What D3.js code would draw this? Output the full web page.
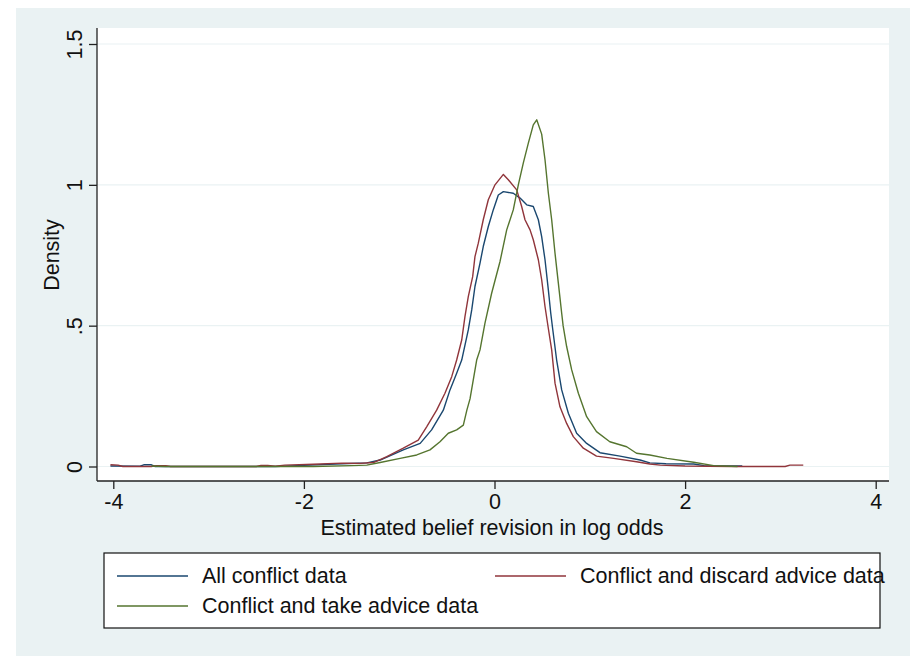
<!DOCTYPE html>
<html>
<head>
<meta charset="utf-8">
<script src="https://cdn.jsdelivr.net/npm/d3@7"></script>
<style>
  html, body { margin: 0; padding: 0; background: #ffffff; }
  svg { display: block; }
  text { font-family: "Liberation Sans", Arial, sans-serif; fill: #111; }
</style>
</head>
<body>
<svg id="chart" width="910" height="656"></svg>
<script>
// Kernel density estimates of belief revision (log odds), one array per group: [x, density]
const allConflict = [
  [-4.03, 0.002], [-3.72, 0.001], [-3.68, 0.006], [-3.60, 0.006], [-3.56, 0.0],
  [-2.30, 0.0], [-2.00, 0.004], [-1.60, 0.010], [-1.34, 0.013], [-1.20, 0.023],
  [-0.957, 0.059], [-0.78, 0.082], [-0.66, 0.13], [-0.537, 0.20], [-0.467, 0.272],
  [-0.397, 0.331], [-0.344, 0.378], [-0.275, 0.485], [-0.239, 0.556], [-0.205, 0.639],
  [-0.152, 0.722], [-0.118, 0.781], [-0.065, 0.852], [-0.013, 0.911], [0.04, 0.964],
  [0.093, 0.976], [0.197, 0.970], [0.268, 0.953], [0.338, 0.929], [0.407, 0.923],
  [0.46, 0.876], [0.495, 0.816], [0.53, 0.734], [0.565, 0.627], [0.59, 0.545],
  [0.61, 0.49], [0.652, 0.378], [0.705, 0.272], [0.775, 0.189], [0.862, 0.118],
  [0.967, 0.082], [1.107, 0.049], [1.317, 0.037], [1.527, 0.023], [1.63, 0.013],
  [1.80, 0.010], [2.09, 0.009], [2.20, 0.003], [2.60, 0.002]
];

const discardAdvice = [
  [-4.03, 0.006], [-3.95, 0.005], [-3.90, 0.0], [-3.60, 0.0], [-3.55, 0.003],
  [-3.45, 0.003], [-3.40, 0.0], [-2.50, 0.0], [-2.45, 0.004], [-2.38, 0.004],
  [-2.30, 0.001], [-2.20, 0.005], [-1.90, 0.008], [-1.60, 0.012], [-1.41, 0.011],
  [-1.27, 0.014], [-1.13, 0.035], [-0.957, 0.065], [-0.80, 0.094], [-0.712, 0.141],
  [-0.607, 0.20], [-0.52, 0.26], [-0.449, 0.319], [-0.397, 0.378], [-0.344, 0.449],
  [-0.31, 0.532], [-0.275, 0.603], [-0.229, 0.674], [-0.205, 0.745], [-0.17, 0.793],
  [-0.118, 0.876], [-0.065, 0.947], [0.005, 1.00], [0.093, 1.037], [0.145, 1.018],
  [0.233, 0.982], [0.285, 0.923], [0.32, 0.876], [0.373, 0.84], [0.407, 0.805],
  [0.46, 0.734], [0.495, 0.663], [0.53, 0.568], [0.565, 0.49], [0.60, 0.414],
  [0.635, 0.296], [0.687, 0.212], [0.757, 0.153], [0.827, 0.106], [0.932, 0.065],
  [1.07, 0.037], [1.25, 0.029], [1.49, 0.017], [1.63, 0.009], [1.74, 0.005],
  [2.00, 0.002], [2.50, 0.0], [3.05, 0.0], [3.10, 0.005], [3.24, 0.005]
];

const takeAdvice = [
  [-3.60, 0.002], [-3.45, 0.0], [-1.90, 0.0], [-1.50, 0.003], [-1.34, 0.005],
  [-1.20, 0.014], [-0.99, 0.029], [-0.816, 0.041], [-0.677, 0.059], [-0.572, 0.088],
  [-0.485, 0.118], [-0.397, 0.13], [-0.327, 0.147], [-0.29, 0.20], [-0.257, 0.24],
  [-0.187, 0.378], [-0.152, 0.414], [-0.10, 0.509], [-0.03, 0.615], [0.058, 0.728],
  [0.128, 0.84], [0.197, 0.911], [0.25, 1.00], [0.302, 1.077], [0.355, 1.148],
  [0.407, 1.213], [0.443, 1.231], [0.495, 1.18], [0.53, 1.089], [0.565, 0.971],
  [0.60, 0.876], [0.635, 0.757], [0.67, 0.651], [0.705, 0.544], [0.72, 0.50],
  [0.757, 0.426], [0.81, 0.343], [0.88, 0.26], [0.967, 0.177], [1.07, 0.124],
  [1.21, 0.088], [1.387, 0.070], [1.49, 0.047], [1.63, 0.041], [1.81, 0.029],
  [2.09, 0.015], [2.30, 0.003], [2.55, 0.0]
];

const seriesNames = ["All conflict data", "Conflict and discard advice data", "Conflict and take advice data"];
const seriesColors = ["#1a476f", "#90353b", "#55752f"];
const xTicks = [-4, -2, 0, 2, 4];
const yTicks = [0, 0.5, 1, 1.5];
const yTickLabels = ["0", ".5", "1", "1.5"];
const xTitle = "Estimated belief revision in log odds";
const yTitle = "Density";

const svg = d3.select("#chart");
const fontSize = 21.5;
const fontFamily = "Liberation Sans, Arial, sans-serif";

// outer graph region
svg.append("rect").attr("x", 16).attr("y", 8).attr("width", 894).attr("height", 648)
  .attr("fill", "#eaf2f3");

const plot = { left: 97, right: 889, top: 28, bottom: 481 };
svg.append("rect").attr("x", plot.left).attr("y", plot.top)
  .attr("width", plot.right - plot.left).attr("height", plot.bottom - plot.top)
  .attr("fill", "#ffffff");

const x = d3.scaleLinear().domain([-4, 4]).range([113.3, 875.7]);
const y = d3.scaleLinear().domain([0, 1.5]).range([466.5, 44]);

// horizontal gridlines
svg.append("g").selectAll("line").data(yTicks).join("line")
  .attr("x1", plot.left).attr("x2", plot.right)
  .attr("y1", d => y(d)).attr("y2", d => y(d))
  .attr("stroke", "#eaf2f3").attr("stroke-width", 1.2);

// density curves
const line = d3.line().x(d => x(d[0])).y(d => y(d[1]));
[allConflict, discardAdvice, takeAdvice].forEach((s, i) => {
  svg.append("path").datum(s).attr("d", line)
    .attr("fill", "none").attr("stroke", seriesColors[i]).attr("stroke-width", 1.4)
    .attr("stroke-linejoin", "round");
});

// x axis (plain hyphen for negative labels)
const xAxis = d3.axisBottom(x).tickValues(xTicks).tickFormat(d => String(d))
  .tickSize(8).tickPadding(5).tickSizeOuter(0);
const gx = svg.append("g").attr("transform", `translate(0,${plot.bottom})`).call(xAxis);
gx.select(".domain").remove();
gx.append("line").attr("x1", plot.left).attr("x2", plot.right).attr("y1", 0).attr("y2", 0)
  .attr("stroke", "#222").attr("stroke-width", 1.3);
gx.selectAll(".tick line").attr("stroke", "#222").attr("stroke-width", 1.3);
gx.selectAll(".tick text").attr("font-size", fontSize).attr("font-family", fontFamily).attr("fill", "#111");

// y axis
const yAxis = d3.axisLeft(y).tickValues(yTicks).tickFormat((d, i) => yTickLabels[i])
  .tickSize(8).tickSizeOuter(0);
const gy = svg.append("g").attr("transform", `translate(${plot.left},0)`).call(yAxis);
gy.select(".domain").remove();
gy.append("line").attr("x1", 0).attr("x2", 0).attr("y1", plot.top).attr("y2", plot.bottom)
  .attr("stroke", "#222").attr("stroke-width", 1.3);
gy.selectAll(".tick line").attr("stroke", "#222").attr("stroke-width", 1.3);
gy.selectAll(".tick text")
  .attr("font-size", fontSize).attr("font-family", fontFamily).attr("fill", "#111")
  .attr("x", null).attr("dy", null)
  .attr("text-anchor", "middle")
  .attr("transform", "translate(-21,0) rotate(-90)")
  .attr("dominant-baseline", "middle");

// axis titles
svg.append("text").attr("x", 492).attr("y", 535).attr("text-anchor", "middle")
  .attr("font-size", fontSize).text(xTitle);
svg.append("text").attr("transform", "translate(59,255) rotate(-90)")
  .attr("text-anchor", "middle").attr("font-size", fontSize).text(yTitle);

// legend
const legend = svg.append("g");
legend.append("rect").attr("x", 104).attr("y", 553).attr("width", 776).attr("height", 75)
  .attr("fill", "#ffffff").attr("stroke", "#111").attr("stroke-width", 1.2);
const legendPos = [[117, 576], [495, 576], [117, 606]];
seriesNames.forEach((name, i) => {
  const [lx, ly] = legendPos[i];
  legend.append("line").attr("x1", lx).attr("x2", lx + 71).attr("y1", ly).attr("y2", ly)
    .attr("stroke", seriesColors[i]).attr("stroke-width", 1.4);
  legend.append("text").attr("x", lx + 85).attr("y", ly + 7).attr("font-size", fontSize).text(name);
});
</script>
</body>
</html>
